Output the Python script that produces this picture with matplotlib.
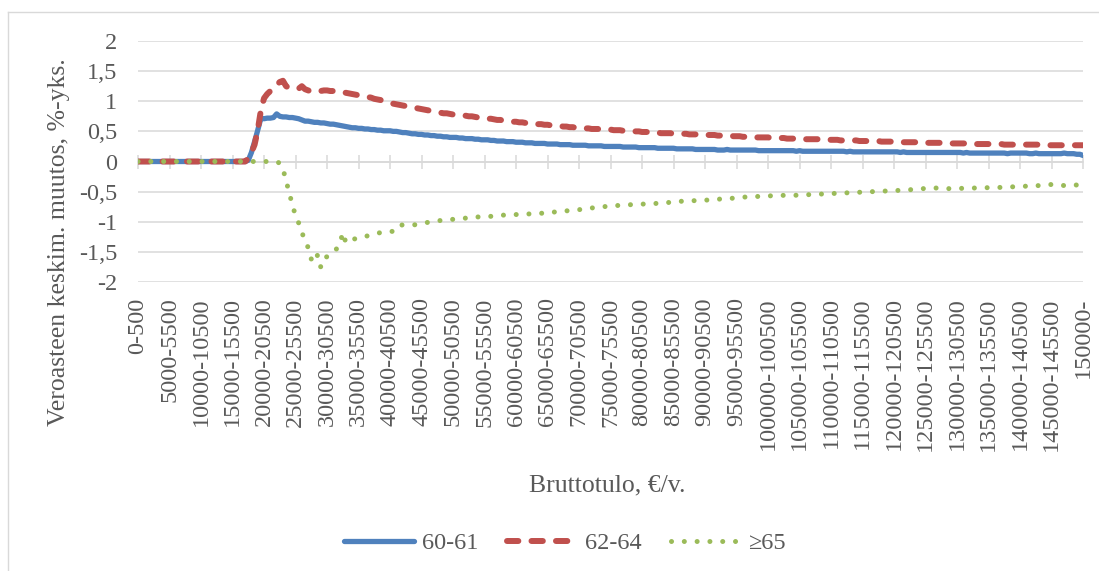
import matplotlib
matplotlib.use('Agg')
import matplotlib.pyplot as plt
from matplotlib.lines import Line2D

# tuloluokat 0-500 ... 149500-150000, 150000-
categories = [f"{i*500}-{i*500+500}" for i in range(300)] + ["150000-"]

ika_60_61 = [
    0, 0, 0, 0, 0, 0, 0, 0, 0, 0,
    0, 0, 0, 0, 0, 0, 0, 0, 0, 0,
    0, 0, 0, 0, 0, 0, 0, 0, 0, 0,
    0, 0, 0, 0, 0, 0.02, 0.15, 0.33, 0.52, 0.72,
    0.71, 0.72, 0.72, 0.73, 0.79, 0.75, 0.74, 0.74, 0.73, 0.73,
    0.72, 0.71, 0.69, 0.67, 0.67, 0.66, 0.65, 0.65, 0.64, 0.64,
    0.63, 0.62, 0.62, 0.61, 0.60, 0.59, 0.58, 0.57, 0.56, 0.56,
    0.55, 0.55, 0.54, 0.54, 0.53, 0.53, 0.52, 0.52, 0.51, 0.51,
    0.51, 0.50, 0.50, 0.49, 0.48, 0.48, 0.47, 0.46, 0.46, 0.45,
    0.45, 0.44, 0.44, 0.43, 0.43, 0.42, 0.42, 0.41, 0.41, 0.40,
    0.40, 0.40, 0.39, 0.39, 0.38, 0.38, 0.38, 0.37, 0.37, 0.36,
    0.36, 0.36, 0.35, 0.35, 0.34, 0.34, 0.34, 0.33, 0.33, 0.33,
    0.32, 0.32, 0.32, 0.31, 0.31, 0.31, 0.30, 0.30, 0.30, 0.30,
    0.29, 0.29, 0.29, 0.29, 0.28, 0.28, 0.28, 0.28, 0.27, 0.27,
    0.27, 0.27, 0.27, 0.26, 0.26, 0.26, 0.26, 0.26, 0.25, 0.25,
    0.25, 0.25, 0.25, 0.25, 0.24, 0.24, 0.24, 0.24, 0.24, 0.23,
    0.23, 0.23, 0.23, 0.23, 0.23, 0.22, 0.22, 0.22, 0.22, 0.22,
    0.22, 0.21, 0.21, 0.21, 0.21, 0.21, 0.21, 0.20, 0.20, 0.20,
    0.20, 0.20, 0.20, 0.20, 0.19, 0.19, 0.19, 0.20, 0.19, 0.19,
    0.19, 0.19, 0.19, 0.19, 0.19, 0.19, 0.19, 0.18, 0.18, 0.18,
    0.18, 0.18, 0.18, 0.18, 0.18, 0.18, 0.18, 0.18, 0.18, 0.17,
    0.18, 0.17, 0.17, 0.17, 0.17, 0.17, 0.17, 0.17, 0.17, 0.17,
    0.17, 0.17, 0.17, 0.17, 0.17, 0.16, 0.17, 0.16, 0.16, 0.16,
    0.16, 0.16, 0.16, 0.16, 0.16, 0.16, 0.16, 0.16, 0.16, 0.16,
    0.16, 0.16, 0.15, 0.16, 0.15, 0.15, 0.15, 0.15, 0.15, 0.15,
    0.15, 0.15, 0.15, 0.15, 0.15, 0.15, 0.15, 0.15, 0.15, 0.15,
    0.15, 0.15, 0.14, 0.15, 0.14, 0.14, 0.14, 0.14, 0.14, 0.14,
    0.14, 0.14, 0.14, 0.14, 0.14, 0.14, 0.13, 0.14, 0.14, 0.14,
    0.14, 0.14, 0.14, 0.13, 0.13, 0.14, 0.13, 0.13, 0.13, 0.13,
    0.13, 0.13, 0.13, 0.13, 0.14, 0.13, 0.13, 0.13, 0.12, 0.12,
    0.10,
]

ika_62_64 = [
    0, 0, 0, 0, 0, 0, 0, 0, 0, 0,
    0, 0, 0, 0, 0, 0, 0, 0, 0, 0,
    0, 0, 0, 0, 0, 0, 0, 0, 0, 0,
    0, 0, 0, 0, 0, 0.05, 0.15, 0.28, 0.52, 0.85,
    1.05, 1.12, 1.17, 1.22, 1.27, 1.32, 1.34, 1.25, 1.22, 1.22,
    1.22, 1.21, 1.25, 1.20, 1.18, 1.16, 1.16, 1.17, 1.17, 1.18,
    1.18, 1.17, 1.17, 1.16, 1.16, 1.15, 1.14, 1.13, 1.12, 1.11,
    1.10, 1.09, 1.08, 1.07, 1.06, 1.04, 1.03, 1.02, 1.00, 0.99,
    0.98, 0.96, 0.95, 0.94, 0.93, 0.92, 0.91, 0.90, 0.89, 0.88,
    0.87, 0.86, 0.85, 0.84, 0.83, 0.82, 0.81, 0.80, 0.80, 0.79,
    0.78, 0.78, 0.77, 0.77, 0.76, 0.75, 0.75, 0.74, 0.73, 0.73,
    0.72, 0.71, 0.71, 0.70, 0.69, 0.69, 0.68, 0.68, 0.67, 0.66,
    0.66, 0.65, 0.65, 0.64, 0.64, 0.63, 0.63, 0.62, 0.62, 0.61,
    0.61, 0.60, 0.60, 0.59, 0.59, 0.58, 0.58, 0.57, 0.57, 0.56,
    0.56, 0.56, 0.55, 0.55, 0.54, 0.54, 0.54, 0.53, 0.53, 0.53,
    0.53, 0.52, 0.52, 0.52, 0.51, 0.51, 0.51, 0.50, 0.50, 0.50,
    0.49, 0.49, 0.49, 0.48, 0.48, 0.48, 0.47, 0.47, 0.47, 0.47,
    0.46, 0.46, 0.46, 0.46, 0.46, 0.45, 0.45, 0.45, 0.45, 0.44,
    0.44, 0.44, 0.44, 0.44, 0.43, 0.43, 0.43, 0.43, 0.43, 0.42,
    0.42, 0.42, 0.41, 0.41, 0.41, 0.41, 0.40, 0.40, 0.40, 0.40,
    0.40, 0.39, 0.39, 0.39, 0.39, 0.39, 0.38, 0.38, 0.38, 0.38,
    0.38, 0.37, 0.37, 0.37, 0.37, 0.37, 0.37, 0.36, 0.36, 0.36,
    0.36, 0.36, 0.36, 0.35, 0.35, 0.35, 0.35, 0.35, 0.35, 0.34,
    0.34, 0.34, 0.34, 0.34, 0.34, 0.34, 0.33, 0.33, 0.33, 0.33,
    0.33, 0.33, 0.33, 0.32, 0.32, 0.32, 0.32, 0.32, 0.32, 0.32,
    0.31, 0.31, 0.31, 0.31, 0.31, 0.31, 0.31, 0.30, 0.30, 0.30,
    0.30, 0.30, 0.30, 0.30, 0.30, 0.29, 0.29, 0.29, 0.29, 0.29,
    0.29, 0.29, 0.29, 0.29, 0.29, 0.28, 0.28, 0.28, 0.28, 0.28,
    0.28, 0.28, 0.28, 0.28, 0.28, 0.28, 0.28, 0.27, 0.27, 0.27,
    0.27, 0.27, 0.27, 0.27, 0.27, 0.27, 0.27, 0.27, 0.27, 0.27,
    0.27,
]

ika_65 = [
    0, 0, 0, 0, 0, 0, 0, 0, 0, 0,
    0, 0, 0, 0, 0, 0, 0, 0, 0, 0,
    0, 0, 0, 0, 0, 0, 0, 0, 0, 0,
    0, 0, 0, 0, 0, 0, 0, 0, 0, 0,
    0, 0, 0, 0, 0, -0.03, -0.12, -0.32, -0.52, -0.72,
    -0.90, -1.02, -1.18, -1.30, -1.43, -1.62, -1.68, -1.55, -1.75, -1.60,
    -1.58, -1.55, -1.52, -1.45, -1.38, -1.18, -1.35, -1.34, -1.30, -1.28,
    -1.26, -1.25, -1.25, -1.23, -1.21, -1.20, -1.19, -1.18, -1.17, -1.17,
    -1.16, -1.16, -1.08, -1.07, -1.05, -1.05, -1.05, -1.05, -1.05, -1.04,
    -1.03, -1.02, -1.01, -1.00, -0.99, -0.98, -0.98, -0.97, -0.97, -0.96,
    -0.96, -0.95, -0.95, -0.94, -0.94, -0.93, -0.93, -0.92, -0.92, -0.92,
    -0.91, -0.91, -0.91, -0.90, -0.90, -0.90, -0.89, -0.89, -0.89, -0.88,
    -0.88, -0.88, -0.88, -0.87, -0.87, -0.87, -0.86, -0.86, -0.86, -0.85,
    -0.85, -0.84, -0.84, -0.83, -0.83, -0.82, -0.82, -0.81, -0.81, -0.80,
    -0.80, -0.79, -0.79, -0.78, -0.77, -0.77, -0.76, -0.76, -0.75, -0.74,
    -0.74, -0.73, -0.73, -0.73, -0.72, -0.72, -0.72, -0.71, -0.71, -0.71,
    -0.71, -0.70, -0.70, -0.70, -0.70, -0.69, -0.69, -0.69, -0.68, -0.68,
    -0.67, -0.67, -0.66, -0.66, -0.65, -0.65, -0.65, -0.65, -0.64, -0.64,
    -0.64, -0.64, -0.63, -0.63, -0.63, -0.62, -0.62, -0.62, -0.61, -0.61,
    -0.60, -0.60, -0.59, -0.59, -0.59, -0.59, -0.58, -0.58, -0.58, -0.58,
    -0.57, -0.57, -0.57, -0.57, -0.57, -0.56, -0.56, -0.56, -0.56, -0.56,
    -0.55, -0.55, -0.55, -0.55, -0.54, -0.54, -0.54, -0.54, -0.54, -0.53,
    -0.53, -0.53, -0.53, -0.52, -0.52, -0.52, -0.52, -0.52, -0.51, -0.51,
    -0.51, -0.51, -0.51, -0.50, -0.50, -0.50, -0.50, -0.49, -0.49, -0.49,
    -0.49, -0.48, -0.48, -0.48, -0.47, -0.47, -0.46, -0.46, -0.45, -0.45,
    -0.45, -0.44, -0.44, -0.44, -0.44, -0.45, -0.45, -0.45, -0.45, -0.45,
    -0.45, -0.45, -0.44, -0.44, -0.44, -0.44, -0.44, -0.44, -0.44, -0.44,
    -0.43, -0.43, -0.43, -0.43, -0.43, -0.42, -0.42, -0.42, -0.42, -0.41,
    -0.41, -0.41, -0.41, -0.41, -0.41, -0.40, -0.40, -0.40, -0.40, -0.39,
    -0.38, -0.38, -0.38, -0.39, -0.40, -0.40, -0.40, -0.39, -0.39, -0.39,
    -0.39,
]

series_names = ['60-61', '62-64', '≥65']

plt.rcParams['font.family'] = ['Liberation Serif', 'DejaVu Serif']
txt = '#595959'
grid = '#D9D9D9'
fs = 17.5

fig = plt.figure(figsize=(10.99, 5.71), dpi=100)
ax = fig.add_axes([0.1256, 0.5061, 0.8599, 0.4221])

x = list(range(len(categories)))
ax.plot(x, ika_60_61, color='#4F81BD', lw=3.8, solid_capstyle='round', label=series_names[0], zorder=3)
ax.plot(x, ika_62_64, color='#C0504D', lw=4.3, linestyle=(0, (1.9, 2.2)),
        dash_capstyle='round', label=series_names[1], zorder=4)
ax.plot(x, ika_65, color='#9BBB59', lw=3.6, linestyle=(0, (0.01, 2.55)),
        dash_capstyle='round', label=series_names[2], zorder=5)

ax.set_xlim(0, len(categories) - 1)
ax.set_ylim(-2, 2)
ax.set_yticks([-2, -1.5, -1, -0.5, 0, 0.5, 1, 1.5, 2])
ax.set_yticklabels(['-2', '-1,5', '-1', '-0,5', '0', '0,5', '1', '1,5', '2'])
ax.tick_params(axis='y', length=0, pad=15, labelsize=fs, labelcolor=txt)
ax.grid(axis='y', color=grid, lw=1.1, zorder=0)

for s in ['top', 'right', 'left']:
    ax.spines[s].set_visible(False)
ax.spines['bottom'].set_position(('data', 0))
ax.spines['bottom'].set_color(grid)
ax.spines['bottom'].set_linewidth(1.1)
ticks = list(range(0, len(categories), 10))
ax.set_xticks(ticks)
ax.tick_params(axis='x', direction='inout', length=9.5, width=1.1, color=grid, labelbottom=False)

# tick labels at bottom of plot area
sec = ax.secondary_xaxis('bottom')
sec.set_xticks(ticks)
sec.set_xticklabels([categories[i] for i in ticks], rotation=90, va='top', ha='center')
sec.tick_params(length=0, pad=11, labelsize=fs, labelcolor=txt)
sec.spines['bottom'].set_visible(False)

ax.set_xlabel('Bruttotulo, €/v.', fontsize=18.5, color=txt)
ax.xaxis.set_label_coords(0.496, -0.80)
ax.set_ylabel('Veroasteen keskim. muutos, %-yks.', fontsize=18.5, color=txt)
ax.yaxis.set_label_coords(-0.072, 0.165)

fig.legend(loc='center', bbox_to_anchor=(0.514, 0.049), ncol=3, frameon=False,
           fontsize=fs, labelcolor=txt, handlelength=2.9, handletextpad=0.3,
           columnspacing=1.2)

# kehys
fig.add_artist(Line2D([8 / 1099, 8 / 1099], [0, 1 - 12 / 571], transform=fig.transFigure, color=grid, lw=1))
fig.add_artist(Line2D([8 / 1099, 1], [1 - 12 / 571, 1 - 12 / 571], transform=fig.transFigure, color=grid, lw=1))

fig.savefig('out.png', dpi=100)
